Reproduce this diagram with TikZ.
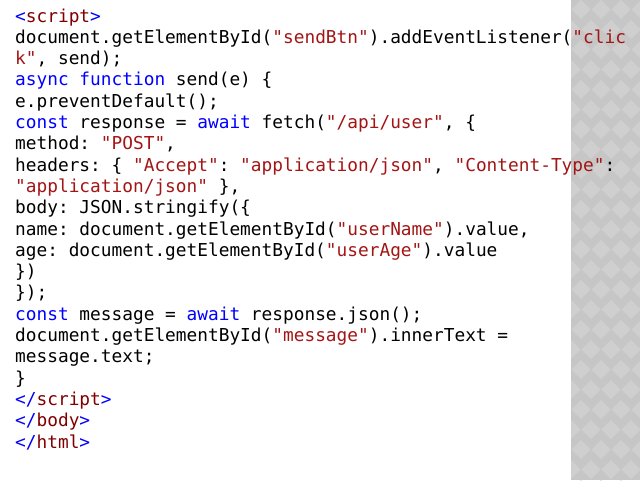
\documentclass[tikz,border=0pt]{standalone}
\usepackage{fontspec}
\setmonofont{DejaVu Sans Mono}
\usepackage{tikz}
\definecolor{kwblue}{RGB}{0,0,255}
\definecolor{strred}{RGB}{163,21,21}
\definecolor{tagred}{RGB}{128,0,0}
\definecolor{stripgray}{RGB}{198,198,198}
\definecolor{diagray}{RGB}{207,207,207}
\newcommand{\kw}[1]{\textcolor{kwblue}{#1}}
\newcommand{\strc}[1]{\textcolor{strred}{#1}}
\newcommand{\tg}[1]{\textcolor{tagred}{#1}}
\begin{document}
\begin{tikzpicture}[x=1pt,y=-1pt,
    codeline/.style={anchor=base west, inner sep=0pt, font=\fontsize{17.8}{20}\ttfamily}]
    \useasboundingbox (0,0) rectangle (640,480);
    % patterned strip
    \fill[stripgray] (571,0) rectangle (640,480);
    \begin{scope}
        \clip (571,0) rectangle (640,480);
        \foreach \i in {0,...,4}
            \foreach \j in {0,...,24}
                \fill[diagray] ({561+20*\i+10*mod(\j,2)},{20*\j}) -- ++(9.5,9.5) -- ++(-9.5,9.5) -- ++(-9.5,-9.5) -- cycle;
    \end{scope}
    % code
    \node[codeline] (l0) at (15,22) {\kw{<}\tg{script}\kw{>}};
    \node[codeline] (l1) at (15,43.3) {document.getElementById(\strc{"sendBtn"}).addEventListener(\strc{"clic}};
    \node[codeline] (l2) at (15,64.6) {\strc{k"}, send);};
    \node[codeline] (l3) at (15,85.9) {\kw{async} \kw{function} send(e) \{};
    \node[codeline] (l4) at (15,107.2) {e.preventDefault();};
    \node[codeline] (l5) at (15,128.5) {\kw{const} response = \kw{await} fetch(\strc{"/api/user"}, \{};
    \node[codeline] (l6) at (15,149.8) {method: \strc{"POST"},};
    \node[codeline] (l7) at (15,171.1) {headers: \{ \strc{"Accept"}: \strc{"application/json"}, \strc{"Content-Type"}:};
    \node[codeline] (l8) at (15,192.4) {\strc{"application/json"} \},};
    \node[codeline] (l9) at (15,213.7) {body: JSON.stringify(\{};
    \node[codeline] (l10) at (15,235) {name: document.getElementById(\strc{"userName"}).value,};
    \node[codeline] (l11) at (15,256.3) {age: document.getElementById(\strc{"userAge"}).value};
    \node[codeline] (l12) at (15,277.6) {\})};
    \node[codeline] (l13) at (15,298.9) {\});};
    \node[codeline] (l14) at (15,320.2) {\kw{const} message = \kw{await} response.json();};
    \node[codeline] (l15) at (15,341.5) {document.getElementById(\strc{"message"}).innerText =};
    \node[codeline] (l16) at (15,362.8) {message.text;};
    \node[codeline] (l17) at (15,384.1) {\}};
    \node[codeline] (l18) at (15,405.4) {\kw{</}\tg{script}\kw{>}};
    \node[codeline] (l19) at (15,426.7) {\kw{</}\tg{body}\kw{>}};
    \node[codeline] (l20) at (15,448) {\kw{</}\tg{html}\kw{>}};
\end{tikzpicture}
\end{document}
